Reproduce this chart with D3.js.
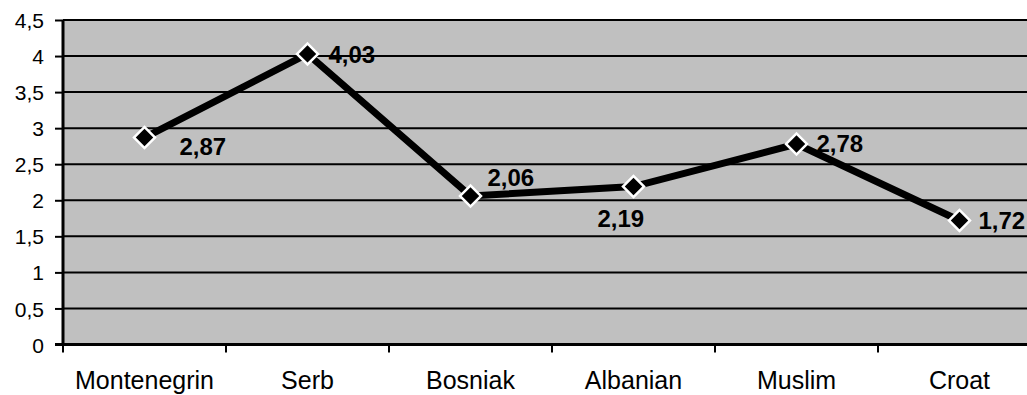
<!DOCTYPE html>
<html>
<head>
<meta charset="utf-8">
<script src="https://cdn.jsdelivr.net/npm/d3@7"></script>
<style>
  html, body { margin: 0; padding: 0; background: #fff; }
  svg { display: block; }
  text { font-family: "Liberation Sans", Arial, sans-serif; fill: #000; }
</style>
</head>
<body>
<svg id="chart" width="1027" height="395"></svg>
<script>
// ---- data ----
const categories = ["Montenegrin", "Serb", "Bosniak", "Albanian", "Muslim", "Croat"];
const values = [2.87, 4.03, 2.06, 2.19, 2.78, 1.72];
const valueLabels = ["2,87", "4,03", "2,06", "2,19", "2,78", "1,72"];
const yTicks = [0, 0.5, 1, 1.5, 2, 2.5, 3, 3.5, 4, 4.5];
const yTickLabels = ["0", "0,5", "1", "1,5", "2", "2,5", "3", "3,5", "4", "4,5"];

// ---- style / layout ----
const labelOffsets = [[35, 17], [21, 9], [17, -10], [-36, 40], [20, 8], [19, 9]];
const plot = { left: 63, right: 1041, top: 20, bottom: 344.5 };

const svg = d3.select("#chart");

const x = d3.scaleBand().domain(categories).range([plot.left, plot.right]).paddingInner(0).paddingOuter(0);
const y = d3.scaleLinear().domain([0, 4.5]).range([plot.bottom, plot.top]);

// plot area
svg.append("rect")
  .attr("x", plot.left).attr("y", plot.top)
  .attr("width", plot.right - plot.left).attr("height", plot.bottom - plot.top)
  .attr("fill", "#c0c0c0");

// gridlines
svg.append("g").selectAll("line").data(yTicks.filter(d => d > 0)).join("line")
  .attr("x1", plot.left).attr("x2", plot.right)
  .attr("y1", d => y(d)).attr("y2", d => y(d))
  .attr("stroke", "#000").attr("stroke-width", 2);

// y axis
const yAxis = d3.axisLeft(y).tickValues(yTicks).tickSize(8).tickPadding(11)
  .tickFormat((d, i) => yTickLabels[i]);
const gy = svg.append("g").attr("transform", `translate(${plot.left},0)`).call(yAxis);
gy.select(".domain").attr("stroke", "#000").attr("stroke-width", 3).attr("d", `M0,${plot.top}V${plot.bottom + 1}`);
gy.selectAll(".tick line").attr("stroke", "#000").attr("stroke-width", 2);
gy.selectAll(".tick text")
  .attr("font-size", 21).attr("font-family", "Liberation Sans, Arial, sans-serif")
  .attr("fill", "#000").attr("dy", "0.36em");

// x axis
const xEdges = d3.range(categories.length + 1).map(i => plot.left + i * x.bandwidth());
const gx = svg.append("g");
gx.append("line").attr("x1", plot.left - 8).attr("x2", plot.right)
  .attr("y1", plot.bottom).attr("y2", plot.bottom)
  .attr("stroke", "#000").attr("stroke-width", 3);
gx.selectAll("line.tk").data(xEdges).join("line").attr("class", "tk")
  .attr("x1", d => d).attr("x2", d => d)
  .attr("y1", plot.bottom).attr("y2", plot.bottom + 8)
  .attr("stroke", "#000").attr("stroke-width", 2);
gx.selectAll("text").data(categories).join("text")
  .attr("x", d => x(d) + x.bandwidth() / 2).attr("y", 389)
  .attr("text-anchor", "middle").attr("font-size", 25)
  .text(d => d);

// line
const pts = categories.map((c, i) => [x(c) + x.bandwidth() / 2, y(values[i])]);
svg.append("path")
  .attr("d", d3.line()(pts))
  .attr("fill", "none").attr("stroke", "#000").attr("stroke-width", 7)
  .attr("stroke-linejoin", "miter");

// markers
svg.append("g").selectAll("path").data(pts).join("path")
  .attr("transform", d => `translate(${d[0]},${d[1]}) rotate(45)`)
  .attr("d", d3.symbol().type(d3.symbolSquare).size(220))
  .attr("fill", "#000").attr("stroke", "#fff").attr("stroke-width", 2.5);

// value labels
svg.append("g").selectAll("text").data(pts).join("text")
  .attr("x", (d, i) => d[0] + labelOffsets[i][0])
  .attr("y", (d, i) => d[1] + labelOffsets[i][1])
  .attr("font-size", 24).attr("font-weight", "bold")
  .text((d, i) => valueLabels[i]);
</script>
</body>
</html>
